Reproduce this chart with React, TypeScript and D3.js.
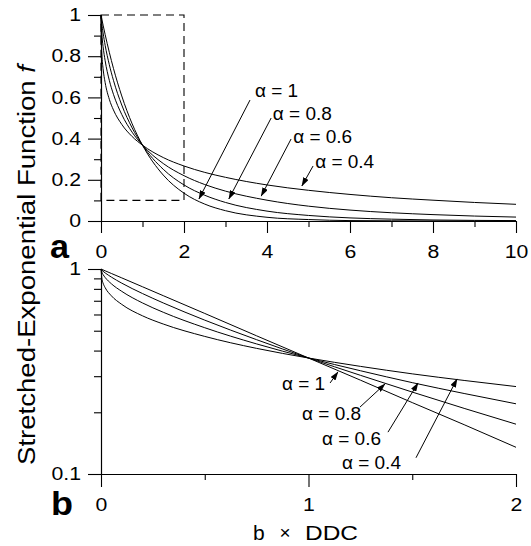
import { useEffect, useRef } from 'react';
import * as d3 from 'd3';

const xLinear = [0, 0.005, 0.02, 0.05, 0.1, 0.2, 0.3, 0.5, 0.75, 1, 1.5, 2, 2.5, 3, 4, 5, 6, 7, 8, 9, 10];
const fLinA1 = [1, 0.995, 0.98, 0.951, 0.905, 0.819, 0.741, 0.607, 0.472, 0.368, 0.223, 0.135, 0.082, 0.05, 0.018, 0.007, 0.002, 0.001, 0.0003, 0.0001, 0];
const fLinA08 = [1, 0.986, 0.957, 0.913, 0.853, 0.759, 0.683, 0.563, 0.452, 0.368, 0.251, 0.175, 0.125, 0.09, 0.048, 0.027, 0.015, 0.009, 0.005, 0.003, 0.002];
const fLinA06 = [1, 0.959, 0.909, 0.847, 0.778, 0.683, 0.615, 0.517, 0.431, 0.368, 0.279, 0.22, 0.177, 0.145, 0.101, 0.072, 0.053, 0.04, 0.031, 0.024, 0.019];
const fLinA04 = [1, 0.887, 0.811, 0.74, 0.672, 0.591, 0.539, 0.469, 0.41, 0.368, 0.308, 0.267, 0.236, 0.212, 0.175, 0.149, 0.129, 0.113, 0.101, 0.09, 0.081];

const xLog = [0, 0.005, 0.01, 0.02, 0.05, 0.1, 0.2, 0.3, 0.5, 0.75, 1, 1.25, 1.5, 1.75, 2];
const fLogA1 = [1, 0.995, 0.99, 0.98, 0.951, 0.905, 0.819, 0.741, 0.607, 0.472, 0.368, 0.287, 0.223, 0.174, 0.135];
const fLogA08 = [1, 0.986, 0.975, 0.957, 0.913, 0.853, 0.759, 0.683, 0.563, 0.452, 0.368, 0.303, 0.251, 0.209, 0.175];
const fLogA06 = [1, 0.959, 0.939, 0.909, 0.847, 0.778, 0.683, 0.615, 0.517, 0.431, 0.368, 0.319, 0.279, 0.247, 0.22];
const fLogA04 = [1, 0.887, 0.853, 0.811, 0.74, 0.672, 0.591, 0.539, 0.469, 0.41, 0.368, 0.335, 0.308, 0.286, 0.267];

const alphaLabels = ['α = 1', 'α = 0.8', 'α = 0.6', 'α = 0.4'];

// annotation placement in data units: [labelX, labelY, fromX, fromY, tipX, tipY]
const notesA = [
  [3.71, 0.602, 3.59, 0.587, 2.36, 0.107],
  [4.14, 0.49, 4.1, 0.5, 3.08, 0.107],
  [4.63, 0.379, 4.58, 0.398, 3.86, 0.121],
  [5.16, 0.257, 5.11, 0.267, 4.84, 0.17],
];
const notesB = [
  [0.872, 0.257, 1.104, 0.278, 1.142, 0.315],
  [0.969, 0.183, 1.248, 0.212, 1.369, 0.275],
  [1.065, 0.138, 1.383, 0.16, 1.528, 0.278],
  [1.161, 0.106, 1.518, 0.12, 1.716, 0.291],
];

const yTicksA = [0, 0.2, 0.4, 0.6, 0.8, 1];
const yMinorA = [0.1, 0.3, 0.5, 0.7, 0.9];
const xTicksA = [0, 2, 4, 6, 8, 10];
const xMinorA = [1, 3, 5, 7, 9];
const yTicksB = [0.1, 1];
const yMinorB = [0.2, 0.3, 0.4, 0.5, 0.6, 0.7, 0.8, 0.9];
const xTicksB = [0, 1, 2];
const xMinorB = [0.5, 1.5];

const font = 'Arial, "Liberation Sans", Helvetica, sans-serif';

export default function App() {
  const svgRef = useRef(null);
  const xARef = useRef(null);
  const xAMinRef = useRef(null);
  const yARef = useRef(null);
  const yAMinRef = useRef(null);
  const xBRef = useRef(null);
  const xBMinRef = useRef(null);
  const yBRef = useRef(null);
  const yBMinRef = useRef(null);

  const xA = d3.scaleLinear().domain([0, 10]).range([101, 516]);
  const yA = d3.scaleLinear().domain([0, 1]).range([221, 15]);
  const xB = d3.scaleLinear().domain([0, 2]).range([101, 516]);
  const yB = d3.scaleLog().domain([0.1, 1]).range([474, 269]);

  useEffect(() => {
    const fmt = (d) => String(d);
    const blank = () => '';
    d3.select(yARef.current).call(d3.axisLeft(yA).tickValues(yTicksA).tickSize(13).tickSizeOuter(0).tickPadding(7).tickFormat(fmt));
    d3.select(yAMinRef.current).call(d3.axisLeft(yA).tickValues(yMinorA).tickSize(7).tickSizeOuter(0).tickFormat(blank));
    d3.select(xARef.current).call(d3.axisBottom(xA).tickValues(xTicksA).tickSize(12).tickSizeOuter(0).tickPadding(12).tickFormat(fmt));
    d3.select(xAMinRef.current).call(d3.axisBottom(xA).tickValues(xMinorA).tickSize(6).tickSizeOuter(0).tickFormat(blank));
    d3.select(yBRef.current).call(d3.axisLeft(yB).tickValues(yTicksB).tickSize(13).tickSizeOuter(0).tickPadding(7).tickFormat(fmt));
    d3.select(yBMinRef.current).call(d3.axisLeft(yB).tickValues(yMinorB).tickSize(7).tickSizeOuter(0).tickFormat(blank));
    d3.select(xBRef.current).call(d3.axisBottom(xB).tickValues(xTicksB).tickSize(13).tickSizeOuter(0).tickPadding(11).tickFormat(fmt));
    d3.select(xBMinRef.current).call(d3.axisBottom(xB).tickValues(xMinorB).tickSize(6).tickSizeOuter(0).tickFormat(blank));

    const svg = d3.select(svgRef.current);
    svg.selectAll('.domain, .tick line').attr('stroke', '#000').attr('stroke-width', 1.1);
    svg.selectAll('.tick text')
      .attr('font-family', font)
      .attr('font-size', 18)
      .attr('fill', '#000')
      .each(function () {
        const t = this as SVGTextElement;
        const w = t.getComputedTextLength();
        if (w > 0) d3.select(t).attr('textLength', w * 1.18).attr('lengthAdjust', 'spacingAndGlyphs');
      });
  }, []);

  const lineA = (ys) => d3.line().x((_, i) => xA(xLinear[i])).y((d) => yA(d)).curve(d3.curveMonotoneX)(ys);
  const lineB = (ys) => d3.line().x((_, i) => xB(xLog[i])).y((d) => yB(d)).curve(d3.curveMonotoneX)(ys);

  const seriesA = [fLinA1, fLinA08, fLinA06, fLinA04];
  const seriesB = [fLogA1, fLogA08, fLogA06, fLogA04];

  return (
    <svg ref={svgRef} width={531} height={546} style={{ position: 'absolute', left: 0, top: 0, background: '#fff' }}>
      <defs>
        <marker id="arr" markerUnits="userSpaceOnUse" markerWidth={9} markerHeight={6} refX={8.5} refY={3} orient="auto">
          <path d="M0,0 L9,3 L0,6 Z" fill="#000" />
        </marker>
      </defs>

      {/* panel a */}
      <rect x={xA(0)} y={yA(1)} width={xA(2) - xA(0)} height={yA(0.1) - yA(1)}
        fill="none" stroke="#000" strokeWidth={1.1} strokeDasharray="8,5" />
      {seriesA.map((s, i) => (
        <path key={'a' + i} d={lineA(s)} fill="none" stroke="#000" strokeWidth={1} />
      ))}
      <g ref={yAMinRef} transform={`translate(${xA(0)},0)`} />
      <g ref={yARef} transform={`translate(${xA(0)},0)`} />
      <g ref={xAMinRef} transform={`translate(0,${yA(0)})`} />
      <g ref={xARef} transform={`translate(0,${yA(0)})`} />
      {notesA.map((n, i) => (
        <g key={'na' + i}>
          <line x1={xA(n[2])} y1={yA(n[3])} x2={xA(n[4])} y2={yA(n[5])} stroke="#000" strokeWidth={1} markerEnd="url(#arr)" />
          <text x={xA(n[0])} y={yA(n[1])} fontFamily={font} fontSize={19}>{alphaLabels[i]}</text>
        </g>
      ))}
      <text x={50} y={258} fontFamily={font} fontSize={34} fontWeight="bold" textLength={19} lengthAdjust="spacingAndGlyphs">a</text>

      {/* panel b */}
      {seriesB.map((s, i) => (
        <path key={'b' + i} d={lineB(s)} fill="none" stroke="#000" strokeWidth={1} />
      ))}
      <g ref={yBMinRef} transform={`translate(${xB(0)},0)`} />
      <g ref={yBRef} transform={`translate(${xB(0)},0)`} />
      <g ref={xBMinRef} transform={`translate(0,${yB(0.1)})`} />
      <g ref={xBRef} transform={`translate(0,${yB(0.1)})`} />
      {notesB.map((n, i) => (
        <g key={'nb' + i}>
          <line x1={xB(n[2])} y1={yB(n[3])} x2={xB(n[4])} y2={yB(n[5])} stroke="#000" strokeWidth={1} markerEnd="url(#arr)" />
          <text x={xB(n[0])} y={yB(n[1])} fontFamily={font} fontSize={19}>{alphaLabels[i]}</text>
        </g>
      ))}
      <text x={51} y={515} fontFamily={font} fontSize={34} fontWeight="bold" textLength={22} lengthAdjust="spacingAndGlyphs">b</text>

      {/* axis titles */}
      <text x={253} y={540} fontFamily={font} fontSize={21}>b</text>
      <text x={285} y={539} fontFamily={font} fontSize={19} textAnchor="middle">×</text>
      <text x={305} y={540} fontFamily={font} fontSize={21} textLength={53} lengthAdjust="spacingAndGlyphs">DDC</text>
      <text transform="translate(35,265) rotate(-90)" textAnchor="middle" fontFamily={font} fontSize={23}
        textLength={400} lengthAdjust="spacingAndGlyphs">
        Stretched-Exponential Function <tspan fontStyle="italic">f</tspan>
      </text>
    </svg>
  );
}
